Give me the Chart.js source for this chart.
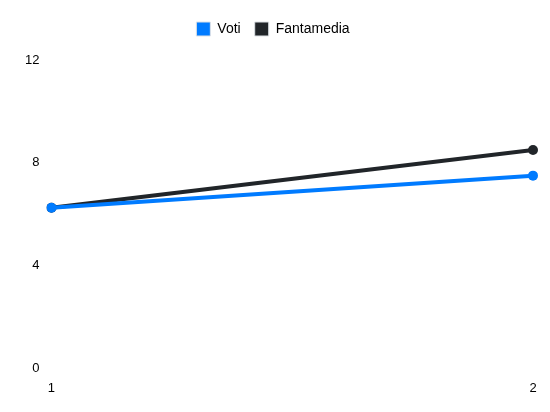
<!DOCTYPE html>
<html><head><meta charset="utf-8">
<script src="https://cdn.jsdelivr.net/npm/chart.js@4/dist/chart.umd.min.js"></script>
<style>html,body{margin:0;padding:0;background:#fff}#w{width:550px;height:412px}</style>
</head><body><div id="w"><canvas id="c"></canvas></div>
<script>
const categories = ['1', '2'];
const voti = [6.25, 7.5];
const fantamedia = [6.25, 8.5];
const yTicks = [0, 4, 8, 12];

Chart.defaults.font.family = 'Liberation Sans, Arial, sans-serif';
Chart.defaults.font.size = 13;
Chart.defaults.color = '#000';
const legendMargin = {
  id: 'legendMargin',
  beforeInit(chart) {
    const orig = chart.legend.fit;
    chart.legend.fit = function () { orig.bind(chart.legend)(); this.height += 14; };
  }
};
new Chart(document.getElementById('c'), {
  type: 'line',
  plugins: [legendMargin],
  data: {
    labels: categories,
    datasets: [
      { label: 'Voti', data: voti, borderColor: '#007bff', backgroundColor: '#007bff', borderWidth: 4, pointRadius: 5, pointBackgroundColor: '#007bff', pointBorderWidth: 0, fill: false, tension: 0 },
      { label: 'Fantamedia', data: fantamedia, borderColor: '#212529', backgroundColor: '#212529', borderWidth: 4, pointRadius: 5, pointBackgroundColor: '#212529', pointBorderWidth: 0, fill: false, tension: 0 }
    ]
  },
  options: {
    responsive: true, maintainAspectRatio: false, animation: false,
    plugins: {
      legend: { labels: {
        boxWidth: 14, boxHeight: 14, padding: 14, font: { size: 14 },
        generateLabels: (chart) => Chart.defaults.plugins.legend.labels.generateLabels(chart).map(l => Object.assign(l, { lineWidth: 1, strokeStyle: '#dee2e6' }))
      } },
      tooltip: { enabled: false }
    },
    layout: { padding: { left: 13, right: 17, top: 8, bottom: 4 } },
    scales: {
      x: { grid: { display: false, drawTicks: false }, border: { display: false }, ticks: { padding: 12 } },
      y: { min: 0, max: 12, afterBuildTicks: (s) => { s.ticks = yTicks.map(v => ({ value: v })); },
           grid: { display: false, drawTicks: false }, border: { display: false }, ticks: { padding: 12 } }
    }
  }
});
</script></body></html>
